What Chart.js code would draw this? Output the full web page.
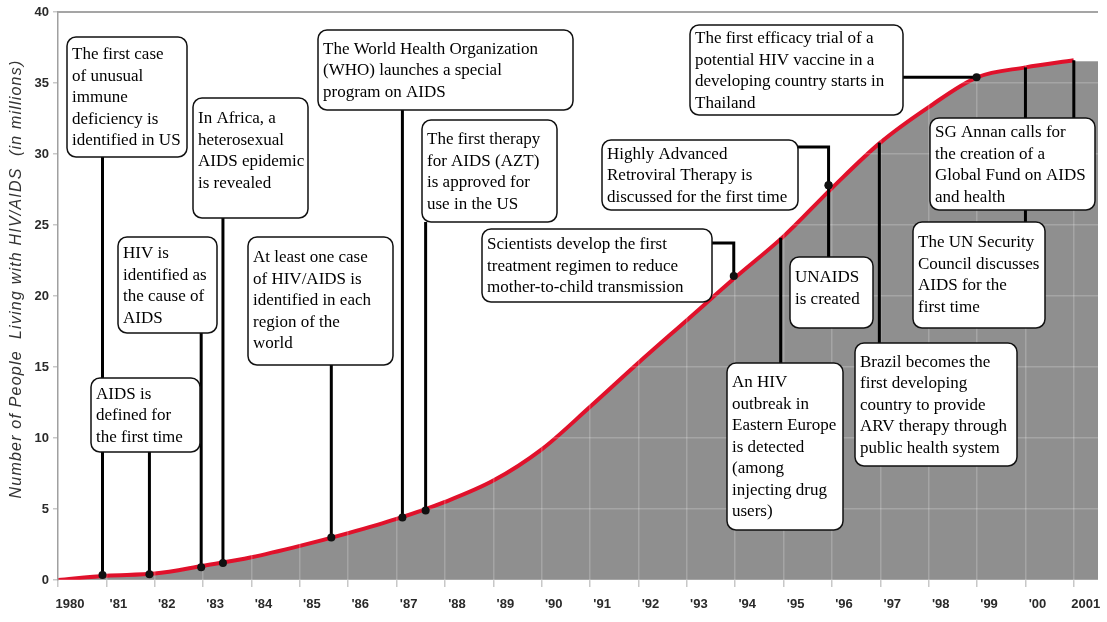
<!DOCTYPE html>
<html>
<head>
<meta charset="utf-8">
<script src="https://cdn.jsdelivr.net/npm/chart.js@4.4.1/dist/chart.umd.min.js"></script>
<style>
  html, body { margin: 0; padding: 0; background: #fff; }
</style>
</head>
<body>
<canvas id="hiv" width="1107" height="622"></canvas>
<script>
// people living with HIV/AIDS, millions
const years = [1980, 1981, 1982, 1983, 1984, 1985, 1986, 1987, 1988, 1989, 1990,
    1991, 1992, 1993, 1994, 1995, 1996, 1997, 1998, 1999, 2000, 2001]
const living = [0, 0.3, 0.45, 1.0, 1.6, 2.4, 3.3, 4.3, 5.5, 7.0, 9.2,
    12.2, 15.3, 18.3, 21.3, 24.2, 27.6, 30.8, 33.3, 35.4, 36.1, 36.6]
const yearLabels = ['1980', "'81", "'82", "'83", "'84", "'85", "'86", "'87", "'88", "'89", "'90",
    "'91", "'92", "'93", "'94", "'95", "'96", "'97", "'98", "'99", "'00", '2001']
const yTicks = [0, 5, 10, 15, 20, 25, 30, 35, 40]

// events: where each one sits on the curve
const eventYears = [1980.92, 1981.89, 1982.96, 1983.41, 1985.65, 1987.12, 1987.6,
    1993.97, 1995.93, 1995.93, 1994.94, 1996.98, 1998.99, 2001, 2000]
const eventValues = [0.35, 0.4, 0.9, 1.2, 3.0, 4.4, 4.9,
    21.4, 27.8, 27.8, 24.1, 30.8, 35.4, 36.6, 36.1]
const eventTexts = [
    ['The first case', 'of unusual', 'immune', 'deficiency is', 'identified in US'],
    ['AIDS is', 'defined for', 'the first time'],
    ['HIV is', 'identified as', 'the cause of', 'AIDS'],
    ['In Africa, a', 'heterosexual', 'AIDS epidemic', 'is revealed'],
    ['At least one case', 'of HIV/AIDS is', 'identified in each', 'region of the', 'world'],
    ['The World Health Organization', '(WHO) launches a special', 'program on AIDS'],
    ['The first therapy', 'for AIDS (AZT)', 'is approved for', 'use in the US'],
    ['Scientists develop the first', 'treatment regimen to reduce', 'mother-to-child transmission'],
    ['Highly Advanced', 'Retroviral Therapy is', 'discussed for the first time'],
    ['UNAIDS', 'is created'],
    ['An HIV', 'outbreak in', 'Eastern Europe', 'is detected', '(among', 'injecting drug', 'users)'],
    ['Brazil becomes the', 'first developing', 'country to provide', 'ARV therapy through', 'public health system'],
    ['The first efficacy trial of a', 'potential HIV vaccine in a', 'developing country starts in', 'Thailand'],
    ['SG Annan calls for', 'the creation of a', 'Global Fund on AIDS', 'and health'],
    ['The UN Security', 'Council discusses', 'AIDS for the', 'first time']
]

// box layout in pixels: [left, top, right, bottom, link, dot, elbowY]
const boxLayout = [
    [67, 37, 187, 157, 'v', true],
    [91, 378, 200, 452, 'v', true],
    [118, 237, 217, 333, 'v', true],
    [193, 98, 308, 218, 'v', true],
    [248, 237, 393, 365, 'v', true],
    [318, 30, 573, 110, 'v', true],
    [422, 120, 557, 222, 'v', true],
    [482, 229, 712, 302, 'elbow', true, 243],
    [602, 140, 798, 210, 'elbow', true, 147],
    [790, 257, 873, 328, 'v', true],
    [727, 363, 843, 530, 'v', false],
    [855, 343, 1017, 466, 'v', false],
    [690, 25, 903, 115, 'h', true],
    [930, 118, 1095, 210, 'v', false],
    [913, 222, 1045, 328, 'v', false]
]

const fillGrey = '#8f8f8f'
const lineH = 21.5

const roundRect = (ctx, x0, y0, x1, y1, r) => {
    ctx.beginPath()
    ctx.moveTo(x0 + r, y0)
    ctx.arcTo(x1, y0, x1, y1, r)
    ctx.arcTo(x1, y1, x0, y1, r)
    ctx.arcTo(x0, y1, x0, y0, r)
    ctx.arcTo(x0, y0, x1, y0, r)
    ctx.closePath()
}

const extras = {
    id: 'extras',
    beforeDatasetsDraw(chart) {
        // grey area keeps going to the right edge after 2001
        const { ctx, chartArea, scales } = chart
        const lx = scales.x.getPixelForValue(years[years.length - 1])
        const ly = scales.y.getPixelForValue(living[living.length - 1])
        ctx.save()
        ctx.fillStyle = fillGrey
        ctx.fillRect(lx - 1, ly + 1, chartArea.right - lx + 1, chartArea.bottom - ly - 1)
        ctx.restore()
    },
    afterDraw(chart) {
        const { ctx, chartArea, scales } = chart
        ctx.save()

        // top frame
        ctx.strokeStyle = '#a5a5a5'
        ctx.lineWidth = 2
        ctx.beginPath()
        ctx.moveTo(chartArea.left, chartArea.top)
        ctx.lineTo(chartArea.right, chartArea.top)
        ctx.stroke()

        // y title
        ctx.save()
        ctx.translate(17, 279)
        ctx.rotate(-Math.PI / 2)
        ctx.font = 'italic 16px "Liberation Sans", Arial, sans-serif'
        ctx.letterSpacing = '1.2px'
        ctx.fillStyle = '#333'
        ctx.textAlign = 'center'
        ctx.textBaseline = 'middle'
        ctx.fillText('Number of People  Living with HIV/AIDS  (in millions)', 0, 0)
        ctx.restore()

        // connectors
        ctx.strokeStyle = '#000'
        ctx.lineWidth = 3
        eventYears.forEach((yr, i) => {
            const px = scales.x.getPixelForValue(yr)
            const py = scales.y.getPixelForValue(eventValues[i])
            const [x0, y0, x1, y1, link, dot, ey] = boxLayout[i]
            ctx.beginPath()
            if (link === 'v') {
                ctx.moveTo(px, y1 < py ? y1 : y0)
                ctx.lineTo(px, py)
            } else if (link === 'elbow') {
                ctx.moveTo(x1, ey)
                ctx.lineTo(px, ey)
                ctx.lineTo(px, py)
            } else {
                ctx.moveTo(x1, py)
                ctx.lineTo(px, py)
            }
            ctx.stroke()
            if (dot) {
                ctx.fillStyle = '#111'
                ctx.beginPath()
                ctx.arc(px, py, 4, 0, Math.PI * 2)
                ctx.fill()
            }
        })

        // boxes
        ctx.font = '17px "Liberation Serif", "Times New Roman", serif'
        ctx.textAlign = 'left'
        ctx.textBaseline = 'alphabetic'
        boxLayout.forEach((b, i) => {
            const [x0, y0, x1, y1] = b
            roundRect(ctx, x0, y0, x1, y1, 9)
            ctx.fillStyle = '#fff'
            ctx.fill()
            ctx.lineWidth = 1.5
            ctx.strokeStyle = '#111'
            ctx.stroke()
            const lines = eventTexts[i]
            const first = y0 + Math.min(25, (y1 - y0 - lines.length * lineH) / 2 + 16)
            ctx.fillStyle = '#000'
            lines.forEach((t, k) => ctx.fillText(t, x0 + 5, first + k * lineH))
        })
        ctx.restore()
    }
}

new Chart(document.getElementById('hiv'), {
    type: 'line',
    data: {
        datasets: [{
            data: years.map((yr, i) => ({ x: yr, y: living[i] })),
            borderColor: '#e0112b',
            borderWidth: 4,
            backgroundColor: fillGrey,
            fill: 'origin',
            pointRadius: 0,
            cubicInterpolationMode: 'monotone'
        }]
    },
    options: {
        responsive: false,
        animation: false,
        devicePixelRatio: 1,
        layout: { padding: { top: 12, right: 9, left: 0, bottom: 0 } },
        plugins: {
            legend: { display: false },
            title: { display: false },
            tooltip: { enabled: false }
        },
        scales: {
            x: {
                type: 'linear',
                min: 1980,
                max: 2001.5,
                afterFit: (scale) => { scale.height = 42 },
                afterBuildTicks: (scale) => {
                    scale.ticks = years.map(v => ({ value: v }))
                },
                grid: {
                    z: 1,
                    color: 'rgba(255,255,255,0.2)',
                    tickColor: '#c8c8c8',
                    tickLength: 7,
                    lineWidth: 1.5
                },
                border: { display: false },
                ticks: {
                    autoSkip: false,
                    maxRotation: 0,
                    labelOffset: 12,
                    padding: 10,
                    color: '#2a2a2a',
                    font: { family: '"Liberation Sans", Arial, sans-serif', size: 13, weight: 'bold' },
                    callback: (val) => yearLabels[years.indexOf(val)]
                }
            },
            y: {
                min: 0,
                max: 40,
                afterFit: (scale) => { scale.width = 58 },
                afterBuildTicks: (scale) => {
                    scale.ticks = yTicks.map(v => ({ value: v }))
                },
                grid: {
                    z: 1,
                    color: 'rgba(255,255,255,0.2)',
                    tickColor: '#c8c8c8',
                    tickLength: 5,
                    lineWidth: 1.5
                },
                border: { display: true, color: '#a0a0a0', width: 1.5, z: 2 },
                ticks: {
                    padding: 4,
                    color: '#2a2a2a',
                    font: { family: '"Liberation Sans", Arial, sans-serif', size: 13, weight: 'bold' }
                }
            }
        }
    },
    plugins: [extras]
})
</script>
</body>
</html>
